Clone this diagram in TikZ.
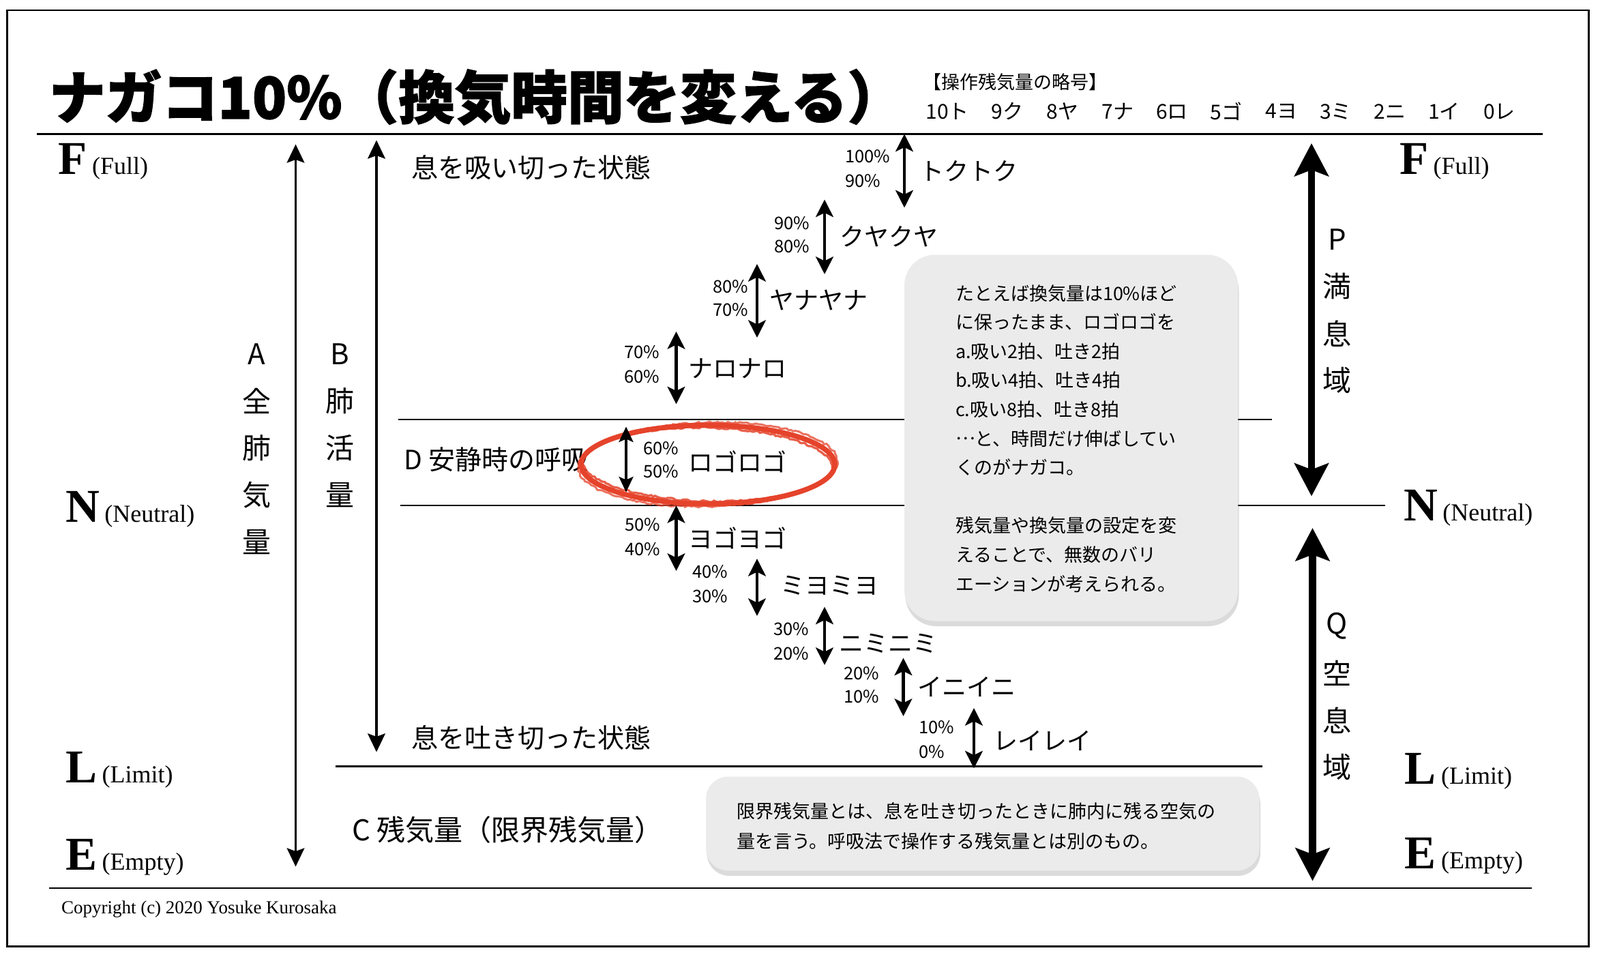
\documentclass[tikz,border=0pt]{standalone}
\usepackage{fontspec}
\setmainfont{Liberation Serif}
\newfontfamily\jp{Noto Sans CJK JP}
\newfontfamily\jptitle{Noto Sans CJK JP}[BoldFeatures={FakeBold=1.6}]
\usetikzlibrary{arrows.meta,shadows,decorations.pathmorphing}
\definecolor{boxgray}{HTML}{EBEBEB}
\definecolor{redmark}{HTML}{E5432B}
\tikzset{
  every node/.style={inner sep=0pt, outer sep=0pt},
  hline/.style={line width=1.7pt},
  jpfont/.style={font=\jp\fontsize{#1}{#1}\selectfont},
  pct/.style={jpfont=17, anchor=west},
  kana/.style={jpfont=24, anchor=west},
  vlabel/.style={jpfont=28},
  bodytext/.style={jpfont=26, anchor=west},
  levellabel/.style={anchor=base west},
  smallarrow/.style={line width=3.2pt, {Stealth[length=17pt,width=17pt,inset=4pt]}-{Stealth[length=17pt,width=17pt,inset=4pt]}},
  thinarrow/.style={line width=2.4pt, {Stealth[length=15pt,width=14pt,inset=3pt]}-{Stealth[length=15pt,width=14pt,inset=3pt]}},
  axisarrow/.style={line width=2.6pt, {Stealth[length=18pt,width=17pt,inset=3pt]}-{Stealth[length=18pt,width=17pt,inset=3pt]}},
  bigarrow/.style={line width=7pt, {Stealth[length=32pt,width=33pt,inset=6pt]}-{Stealth[length=32pt,width=33pt,inset=6pt]}},
  notebox/.style={fill=boxgray, draw=none, drop shadow={opacity=0.28, shadow xshift=1pt, shadow yshift=-5pt}},
  crayon/.style={redmark, line width=#1, decorate, decoration={random steps, segment length=2.5pt, amplitude=0.9pt}},
}
\newcommand{\lvl}[2]{{\fontsize{46}{46}\selectfont\bfseries #1}\hspace{5pt}{\fontsize{24}{24}\selectfont (#2)}}
\begin{document}
\begin{tikzpicture}[x=1pt,y=-1pt]
\useasboundingbox (0,0) rectangle (1564,934.67);
\fill[white] (0,0) rectangle (1564,934.67);
% frame
\draw[line width=1.5pt] (7,10) rectangle (1553,925);
% horizontal lines
\coordinate (tl1) at (36,131); \coordinate (tl2) at (1508,131);
\draw[line width=1.9pt] (tl1) -- (tl2);
\coordinate (bl1) at (48,868); \coordinate (bl2) at (1497,868);
\draw[line width=1.9pt] (bl1) -- (bl2);
\coordinate (d1) at (389,410); \coordinate (d2) at (1243,410);
\draw[hline] (d1) -- (d2);
\coordinate (n1) at (391,494); \coordinate (n2) at (1354,494);
\draw[hline] (n1) -- (n2);
\coordinate (c1) at (328,749); \coordinate (c2) at (1234,749);
\draw[hline] (c1) -- (c2);

% title
\node[anchor=west, font=\jptitle\bfseries\fontsize{56}{56}\selectfont] (title) at (48,95) {\scalebox{0.983}[1]{ナガコ10\%（換気時間を変える）}};
\node[anchor=west, jpfont=18] (hdr) at (902,80) {【操作残気量の略号】};
\foreach \t/\x in {10ト/905, 9ク/969, 8ヤ/1023, 7ナ/1077, 6ロ/1130, 5ゴ/1183, 4ヨ/1237, 3ミ/1290, 2ニ/1343, 1イ/1396, 0レ/1450}
  \node[anchor=west, jpfont=20] (abbr\x) at (\x,109) {\t};

% level labels
\node[levellabel] (lF) at (57,170) {\lvl{F}{Full}};
\node[levellabel] (lN) at (64,510) {\lvl{N}{Neutral}};
\node[levellabel] (lL) at (64,765) {\lvl{L}{Limit}};
\node[levellabel] (lE) at (64,850) {\lvl{E}{Empty}};
\node[levellabel] (rF) at (1368,170) {\lvl{F}{Full}};
\node[levellabel] (rN) at (1372,509) {\lvl{N}{Neutral}};
\node[levellabel] (rL) at (1373,766) {\lvl{L}{Limit}};
\node[levellabel] (rE) at (1373,849) {\lvl{E}{Empty}};

% A and B axes
\coordinate (at) at (289,141); \coordinate (ab) at (289,847);
\draw[axisarrow] (at) -- (ab);
\coordinate (bt) at (368,137); \coordinate (bb) at (368,735);
\draw[axisarrow] (bt) -- (bb);
\foreach \t [count=\i] in {A,全,肺,気,量}
  \node[vlabel] (colA\i) at (251,{346+46*(\i-1)}) {\t};
\foreach \t [count=\i] in {B,肺,活,量}
  \node[vlabel] (colB\i) at (332,{346+46*(\i-1)}) {\t};

% P and Q
\coordinate (pt) at (1282,140); \coordinate (pb) at (1282,485);
\draw[bigarrow] (pt) -- (pb);
\coordinate (qt) at (1283,516); \coordinate (qb) at (1283,861);
\draw[bigarrow] (qt) -- (qb);
\foreach \t [count=\i] in {P,満,息,域}
  \node[vlabel] (colP\i) at (1307,{234+46*(\i-1)}) {\t};
\foreach \t [count=\i] in {Q,空,息,域}
  \node[vlabel] (colQ\i) at (1307,{612+46*(\i-1)}) {\t};

% state texts
\node[bodytext] (inhale) at (402,164) {息を吸い切った状態};
\node[bodytext] (exhale) at (402,721) {息を吐き切った状態};
\node[bodytext] (rest) at (395,449) {D 安静時の呼吸};
\node[jpfont=28, anchor=west] (resid) at (344,811) {C 残気量（限界残気量）};

% note boxes
\node[notebox, rounded corners=30pt, minimum width=326pt, minimum height=358pt] (box1) at (1047,428) {};
\node[anchor=west, align=left, font=\jp\fontsize{18}{28.4}\selectfont] (box1txt) at (934,428.5) {たとえば換気量は10\%ほど\\に保ったまま、ロゴロゴを\\a.吸い2拍、吐き2拍\\b.吸い4拍、吐き4拍\\c.吸い8拍、吐き8拍\\\raisebox{0.3em}{…}と、時間だけ伸ばしてい\\くのがナガコ。\\[28.4pt]残気量や換気量の設定を変\\えることで、無数のバリ\\エーションが考えられる。};
\node[notebox, rounded corners=22pt, minimum width=541pt, minimum height=92pt] (box2) at (960.5,805) {};
\node[anchor=west, align=left, font=\jp\fontsize{18}{29}\selectfont] (box2txt) at (720,807.5) {限界残気量とは、息を吐き切ったときに肺内に残る空気の\\量を言う。呼吸法で操作する残気量とは別のもの。};

% red mark
\coordinate (rc) at (692,454);
\draw[redmark, line width=5pt] (rc) ellipse [x radius=124pt, y radius=38.5pt];
\draw[crayon=2.2pt, opacity=0.85, rotate around={-1.5:(rc)}] (rc) ellipse [x radius=121.5pt, y radius=36pt];
\draw[crayon=2pt, opacity=0.75, rotate around={1.5:(rc)}] (rc) ellipse [x radius=126.5pt, y radius=41pt];

% small arrows
\foreach \n/\x/\ya/\yb in {1/884/131/203, 2/806/195/268, 3/740/258/330, 4/661/324/395, 6/661/494/558, 7/740/546/602, 8/806/593/650, 9/883/643/700, 10/952/692/751} {
  \coordinate (s\n t) at (\x,\ya); \coordinate (s\n b) at (\x,\yb);
  \draw[smallarrow] (s\n t) -- (s\n b);
}
\coordinate (s5t) at (612,417); \coordinate (s5b) at (612,481);
\draw[thinarrow] (s5t) -- (s5b);

\foreach \n/\x/\ya/\yb/\ta/\tb in {1/826/153/177/100/90, 2/757/218/241/90/80, 3/697/280/303/80/70, 4/610/344/368/70/60, 5/629/438/461/60/50, 6/611/513/537/50/40, 7/677/559/583/40/30, 8/756/615/639/30/20, 9/825/658/681/20/10, 10/898/711/735/10/0} {
  \node[pct] (p\n a) at (\x,\ya) {\ta\%};
  \node[pct] (p\n b) at (\x,\yb) {\tb\%};
}
\foreach \n/\x/\y/\t in {1/899/167/トクトク, 2/821/231/クヤクヤ, 3/752/293/ヤナヤナ, 4/673/360/ナロナロ, 5/673/451/ロゴロゴ, 6/673/526/ヨゴヨゴ, 7/763/572/ミヨミヨ, 8/820/629/ニミニミ, 9/897/671/イニイニ, 10/971/724/レイレイ}
  \node[kana] (k\n) at (\x,\y) {\t};

% copyright
\node[anchor=base west, font=\fontsize{18}{18}\selectfont] (copy) at (60,893) {Copyright (c) 2020 Yosuke Kurosaka};
\end{tikzpicture}
\end{document}
